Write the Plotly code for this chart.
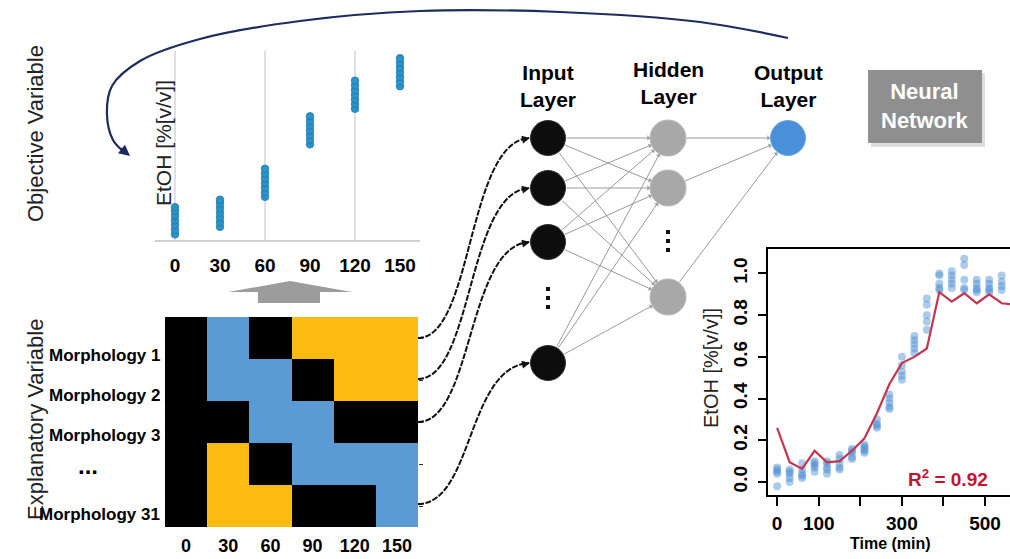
import math
import plotly.graph_objects as go

FONT = "Liberation Sans, Arial, sans-serif"

# ---------------- data ----------------
# top-left: objective variable (EtOH) per sampling time
obj_times = [0, 30, 60, 90, 120, 150]
obj_values = [
    [0.01, 0.035, 0.06, 0.085, 0.11, 0.135, 0.155],
    [0.05, 0.075, 0.10, 0.125, 0.15, 0.175, 0.195],
    [0.21, 0.235, 0.26, 0.285, 0.31, 0.335, 0.36],
    [0.49, 0.515, 0.54, 0.565, 0.59, 0.615, 0.64],
    [0.68, 0.705, 0.73, 0.755, 0.78, 0.805, 0.83],
    [0.80, 0.825, 0.85, 0.875, 0.90, 0.925, 0.95],
]
obj_ticklabels = ["0", "30", "60", "90", "120", "150"]

# heatmap: explanatory variables (0 = black, 1 = blue, 2 = orange)
heat_x = [0, 30, 60, 90, 120, 150]
heat_rows = [0, 1, 2, 3, 4]
heat_z = [
    [0, 1, 0, 2, 2, 2],
    [0, 1, 1, 0, 2, 2],
    [0, 0, 1, 1, 0, 0],
    [0, 2, 0, 1, 1, 1],
    [0, 2, 2, 0, 0, 1],
]
morph_labels = ["Morphology 1", "Morphology 2", "Morphology 3", "...", "Morphology 31"]

# bottom-right: measured EtOH vs time and NN prediction
time_pts = [0, 30, 60, 90, 120, 150, 180, 210, 240, 270, 300, 330, 360,
            390, 420, 450, 480, 510, 540]
measured = [
    [0.07, 0.06, 0.05, 0.04, -0.02],
    [0.06, 0.05, 0.04, 0.02, 0.00],
    [0.09, 0.06, 0.04, 0.03, 0.02],
    [0.10, 0.09, 0.08, 0.07, 0.05],
    [0.10, 0.09, 0.07, 0.06, 0.04],
    [0.13, 0.11, 0.09, 0.07, 0.06],
    [0.16, 0.15, 0.14, 0.12, 0.11],
    [0.18, 0.17, 0.16, 0.15, 0.14],
    [0.30, 0.28, 0.27, 0.26],
    [0.42, 0.40, 0.38, 0.36, 0.35],
    [0.60, 0.56, 0.53, 0.51, 0.49],
    [0.70, 0.68, 0.66, 0.64, 0.62],
    [0.88, 0.85, 0.80, 0.77, 0.73],
    [1.00, 0.99, 0.95, 0.93, 0.92],
    [1.01, 0.99, 0.97, 0.95, 0.93],
    [1.07, 1.04, 0.97, 0.93, 0.92],
    [0.97, 0.95, 0.93, 0.92, 0.91],
    [0.97, 0.95, 0.93, 0.92, 0.91],
    [0.99, 0.96, 0.94, 0.92],
]
pred_times = [0, 30, 60, 90, 120, 150, 180, 210, 240, 270, 300, 330, 360,
              390, 420, 450, 480, 510, 540, 570]
predicted = [0.26, 0.095, 0.063, 0.15, 0.095, 0.10, 0.15, 0.21, 0.33, 0.47,
             0.57, 0.60, 0.64, 0.91, 0.865, 0.905, 0.857, 0.90, 0.857, 0.85]
br_xticks = [0, 100, 200, 300, 400, 500]
br_xticktext = ["0", "100", "", "300", "", "500"]
br_yticks = [0.0, 0.2, 0.4, 0.6, 0.8, 1.0]

# diagram layout (canvas pixels)
input_x, input_y = 548, [138, 188, 242, 363]
hidden_x, hidden_y = 668, [138, 188, 297]
output_x, output_y = 788, 138
node_r = 17
heat_row_px = [338, 379, 422, 504]     # start of curved links (rows 1,2,3,31)
arc_x = [788, 700, 560, 420, 300, 200, 140, 112, 107, 113, 124]
arc_y = [38, 22, 12, 11, 21, 39, 61, 86, 115, 140, 152]

W, H = 1010, 559


def py(p):
    return 1 - p / H


fig = go.Figure()

# ---------- overlay canvas traces ----------
fig.add_trace(go.Scatter(x=arc_x, y=arc_y, mode="lines",
                         line=dict(color="#1d2b5e", width=2.2, shape="spline"),
                         xaxis="x", yaxis="y", hoverinfo="skip"))

# input-layer / hidden-layer ellipsis dots
fig.add_trace(go.Scatter(x=[548, 548, 548], y=[289, 298, 307], mode="markers",
                         marker=dict(symbol="square", size=4, color="#111"),
                         xaxis="x", yaxis="y", hoverinfo="skip"))
fig.add_trace(go.Scatter(x=[668, 668, 668], y=[232, 241, 250], mode="markers",
                         marker=dict(symbol="square", size=4, color="#111"),
                         xaxis="x", yaxis="y", hoverinfo="skip"))

# ---------- top-left scatter ----------
tx, ty = [], []
for t, vals in zip(obj_times, obj_values):
    for v in vals:
        tx.append(t)
        ty.append(v)
fig.add_trace(go.Scatter(x=tx, y=ty, mode="markers",
                         marker=dict(size=7.5, color="#2a93c9",
                                     line=dict(color="#1f77a8", width=0.8)),
                         xaxis="x2", yaxis="y2", hoverinfo="skip"))

# ---------- heatmap ----------
BLACK, BLUE, ORANGE = "#000000", "#5b9bd5", "#fbbb10"
fig.add_trace(go.Heatmap(x=heat_x, y=heat_rows, z=heat_z, zmin=0, zmax=2,
                         colorscale=[[0, BLACK], [0.333, BLACK], [0.333, BLUE],
                                     [0.667, BLUE], [0.667, ORANGE], [1, ORANGE]],
                         showscale=False, xaxis="x3", yaxis="y3",
                         hoverinfo="skip"))

# ---------- bottom-right chart ----------
mx, my = [], []
for t, vals in zip(time_pts, measured):
    for v in vals:
        mx.append(t)
        my.append(v)
fig.add_trace(go.Scatter(x=mx, y=my, mode="markers",
                         marker=dict(size=8, color="rgba(70,140,210,0.45)"),
                         xaxis="x4", yaxis="y4", hoverinfo="skip"))
fig.add_trace(go.Scatter(x=pred_times, y=predicted, mode="lines",
                         line=dict(color="#c2374f", width=2.2),
                         xaxis="x4", yaxis="y4", hoverinfo="skip"))

# nodes
fig.add_trace(go.Scatter(x=[input_x] * len(input_y), y=input_y, mode="markers",
                         marker=dict(size=35, color="#0d0d0d",
                                     line=dict(color="#333", width=1)),
                         xaxis="x", yaxis="y", hoverinfo="skip"))
fig.add_trace(go.Scatter(x=[hidden_x] * len(hidden_y), y=hidden_y, mode="markers",
                         marker=dict(size=36, color="#a8a8a8",
                                     line=dict(color="#b8b8b8", width=1)),
                         xaxis="x", yaxis="y", hoverinfo="skip"))
fig.add_trace(go.Scatter(x=[output_x], y=[output_y], mode="markers",
                         marker=dict(size=35, color="#4a90d9",
                                     line=dict(color="#6aa6e0", width=1)),
                         xaxis="x", yaxis="y", hoverinfo="skip"))

shapes = []
annotations = []

# gridlines of the top-left chart
for gx in [0, 60, 120]:
    shapes.append(dict(type="line", xref="x2", yref="y2", x0=gx, x1=gx,
                       y0=-0.02, y1=0.99, line=dict(color="#d6d6d6", width=1.5),
                       layer="below"))

# grey up arrow
shapes.append(dict(type="path", xref="x", yref="y",
                   path="M 228 292 L 290 281 L 352 292 L 320 292 L 320 303 L 258 303 L 258 292 Z",
                   fillcolor="#9c9c9c", line=dict(width=0)))

# Neural Network box
shapes.append(dict(type="rect", xref="x", yref="y", x0=871, y0=73, x1=985, y1=147,
                   fillcolor="#dedede", line=dict(width=0)))
shapes.append(dict(type="rect", xref="x", yref="y", x0=868, y0=70, x1=982, y1=143,
                   fillcolor="#8f8f8f", line=dict(width=0)))

# curved links heatmap -> input nodes
targets = input_y
for y0, y1 in zip(heat_row_px, targets):
    x0, x1 = 418, 529
    shapes.append(dict(type="path", xref="x", yref="y",
                       path=f"M {x0} {y0} C {x0+55} {y0} {x1-62} {y1+4} {x1} {y1}",
                       line=dict(color="#111", width=2, dash="6px,1.5px")))
    annotations.append(dict(x=x1 + 1, y=y1, ax=x1 - 9, ay=y1 + 2, xref="x", yref="y",
                            axref="x", ayref="y", text="", showarrow=True,
                            arrowhead=2, arrowsize=1, arrowwidth=1.6,
                            arrowcolor="#111"))

# network edges
def edge(xa, ya, xb, yb):
    dx, dy = xb - xa, yb - ya
    d = math.hypot(dx, dy)
    ux, uy = dx / d, dy / d
    sx, sy = xa + node_r * ux, ya + node_r * uy
    ex, ey = xb - (node_r + 1) * ux, yb - (node_r + 1) * uy
    annotations.append(dict(x=ex, y=ey, ax=sx, ay=sy, xref="x", yref="y",
                            axref="x", ayref="y", text="", showarrow=True,
                            arrowhead=1, arrowsize=0.9, arrowwidth=1,
                            arrowcolor="#9a9a9a"))

for yi in input_y:
    for yh in hidden_y:
        edge(input_x, yi, hidden_x, yh)
for yh in hidden_y:
    edge(hidden_x, yh, output_x, output_y)

# arc arrow head
annotations.append(dict(x=130, y=156, ax=119, ay=147, xref="x", yref="y",
                        axref="x", ayref="y", text="", showarrow=True,
                        arrowhead=2, arrowsize=1.1, arrowwidth=2,
                        arrowcolor="#1d2b5e"))

def txt(x, y, s, size, bold=False, color="#000", angle=0, xanchor="center"):
    annotations.append(dict(x=x, y=y, xref="x", yref="y", text=s, showarrow=False,
                            textangle=angle, xanchor=xanchor, yanchor="middle",
                            font=dict(family=FONT, size=size, color=color,
                                      weight="bold" if bold else "normal")))

txt(35, 134, "Objective Variable", 22, color="#222", angle=-90)
txt(35, 420, "Explanatory Variable", 22, color="#222", angle=-90)
txt(163, 143, "EtOH [%[v/v]]", 21, color="#222", angle=-90)

morph_px = [355, 395, 435, 470, 514]
for lab, yy in zip(morph_labels, morph_px):
    if lab == "...":
        txt(88, yy - 5, "...", 24, bold=True)
    else:
        txt(162, yy, lab, 17, bold=True, xanchor="right")

txt(548, 86, "Input<br>Layer", 21, bold=True)
txt(668, 83, "Hidden<br>Layer", 21, bold=True)
txt(788, 86, "Output<br>Layer", 21, bold=True)
txt(925, 106, "Neural<br>Network", 22, bold=True, color="#ffffff")

txt(711, 368, "EtOH [%[v/v]]", 20, color="#222", angle=-90)
txt(890, 543, "Time (min)", 16, bold=True)
txt(948, 478, "R<sup>2</sup> = 0.92", 19, bold=True, color="#c0152f")

bold_tick = lambda s: dict(family=FONT, size=s, color="#000", weight="bold")

fig.update_layout(
    width=W, height=H, margin=dict(l=0, r=0, t=0, b=0),
    paper_bgcolor="white", plot_bgcolor="rgba(0,0,0,0)",
    showlegend=False, shapes=shapes, annotations=annotations,
    xaxis=dict(domain=[0, 1], range=[0, W], visible=False, fixedrange=True),
    yaxis=dict(domain=[0, 1], range=[H, 0], visible=False, fixedrange=True),
    xaxis2=dict(domain=[155 / W, 420 / W], range=[-13.33, 163.33], anchor="y2",
                tickvals=obj_times, ticktext=obj_ticklabels, showgrid=False,
                zeroline=False, showline=True, linecolor="#cfcfcf", linewidth=1.5,
                ticks="", tickfont=bold_tick(19), ticklabelstandoff=7),
    yaxis2=dict(domain=[py(240), py(45)], range=[-0.02, 1.02], anchor="x2",
                visible=False),
    xaxis3=dict(domain=[165 / W, 418 / W], range=[-15, 165], anchor="y3",
                tickvals=heat_x, ticktext=obj_ticklabels, showgrid=False,
                zeroline=False, showline=False, ticks="", tickfont=bold_tick(18),
                ticklabelstandoff=6),
    yaxis3=dict(domain=[py(527), py(317)], range=[4.5, -0.5], anchor="x3",
                side="right", tickvals=heat_rows, ticks="outside", ticklen=4,
                tickcolor="#333", showticklabels=False, showgrid=False,
                zeroline=False, showline=False),
    xaxis4=dict(domain=[768 / W, 1.0], range=[-22, 560], anchor="y4",
                tickvals=br_xticks, ticktext=br_xticktext, showline=True,
                linecolor="#000", linewidth=2, mirror=True, ticks="outside",
                ticklen=9, tickwidth=2, tickcolor="#000", showgrid=False,
                zeroline=False, tickfont=bold_tick(19), ticklabelstandoff=1),
    yaxis4=dict(domain=[py(495), py(249)], range=[-0.062, 1.117], anchor="x4",
                tickvals=br_yticks, tickformat=".1f", showline=True,
                linecolor="#000", linewidth=2, ticks="outside", ticklen=8,
                tickwidth=2, tickcolor="#000", showgrid=False, zeroline=False,
                tickangle=-90, tickfont=bold_tick(19), ticklabelstandoff=3),
)

fig.write_html("out.html", config={"displayModeBar": False},
               post_script="document.body.style.margin='0';document.body.style.overflow='hidden';")
